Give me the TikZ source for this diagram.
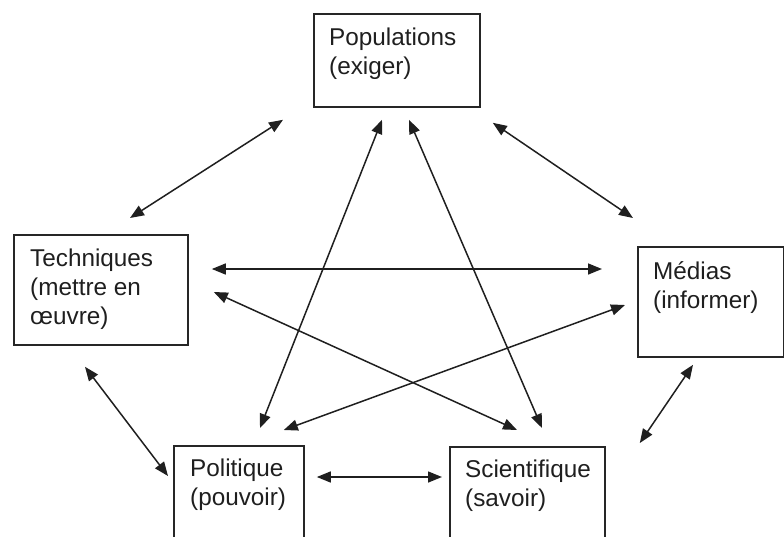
\documentclass[tikz,border=0pt]{standalone}
\usepackage{fontspec}
\setmainfont{Liberation Sans}
\usepackage{tikz}
\usetikzlibrary{arrows.meta, positioning, calc}

\begin{document}
\begin{tikzpicture}[
    x=1pt, y=-1pt,
    % Box and text styles
    actorbox/.style={draw=black!85, line width=1.8pt, rectangle, inner sep=0pt, anchor=north west},
    actorlabel/.style={anchor=north west, inner sep=0pt, align=left, text=black!88,
        font=\fontsize{24.3}{29}\selectfont},
    % Two-way links
    link/.style={draw=black!88, line width=1.5pt,
        {Triangle[length=14pt, width=11pt]}-{Triangle[length=14pt, width=11pt]}}
]
\clip (0,0) rectangle (784,536);
\useasboundingbox (0,0) rectangle (784,536);

% Actor boxes
\node[actorbox, minimum width=166, minimum height=93] (pop_box) at (313,13) {};
\node[actorbox, minimum width=174, minimum height=110] (tech_box) at (13,234) {};
\node[actorbox, minimum width=146, minimum height=110] (med_box) at (637,246) {};
\node[actorbox, minimum width=130, minimum height=120] (pol_box) at (173,445) {};
\node[actorbox, minimum width=155, minimum height=120] (sci_box) at (449,446) {};

% Box texts
\node[actorlabel] (pop_text) at ([shift={(16,15)}]pop_box.north west) {Populations\\(exiger)};
\node[actorlabel] (tech_text) at ([shift={(17,15)}]tech_box.north west) {Techniques\\(mettre en\\œuvre)};
\node[actorlabel] (med_text) at ([shift={(16,15)}]med_box.north west) {Médias\\(informer)};
\node[actorlabel] (pol_text) at ([shift={(17,14)}]pol_box.north west) {Politique\\(pouvoir)};
\node[actorlabel] (sci_text) at ([shift={(16,14)}]sci_box.north west) {Scientifique\\(savoir)};

% Links round the outside
\draw[link] ([shift={(117,-16)}]tech_box.north west) -- ([shift={(-30,12)}]pop_box.south west);
\draw[link] ([shift={(12,15)}]pop_box.south east) -- ([shift={(-4,-28)}]med_box.north west);
\draw[link] ([shift={(72,21)}]tech_box.south west) -- ([shift={(-5,31)}]pol_box.north west);
\draw[link] ([shift={(56,7)}]med_box.south west) -- ([shift={(34,-3)}]sci_box.north east);
\draw[link] ([shift={(12,32)}]pol_box.north east) -- ([shift={(-7,31)}]sci_box.north west);

% Links across the middle
\draw[link] ([shift={(23,35)}]tech_box.north east) -- ([shift={(-35,23)}]med_box.north west);
\draw[link] ([shift={(25,58)}]tech_box.north east) -- ([shift={(68,-16)}]sci_box.north west);
\draw[link] ([shift={(-12,59)}]med_box.north west) -- ([shift={(-21,-15)}]pol_box.north east);
\draw[link] ([shift={(69,12)}]pop_box.south west) -- ([shift={(87,-17)}]pol_box.north west);
\draw[link] ([shift={(96,12)}]pop_box.south west) -- ([shift={(93,-18)}]sci_box.north west);

\end{tikzpicture}
\end{document}
